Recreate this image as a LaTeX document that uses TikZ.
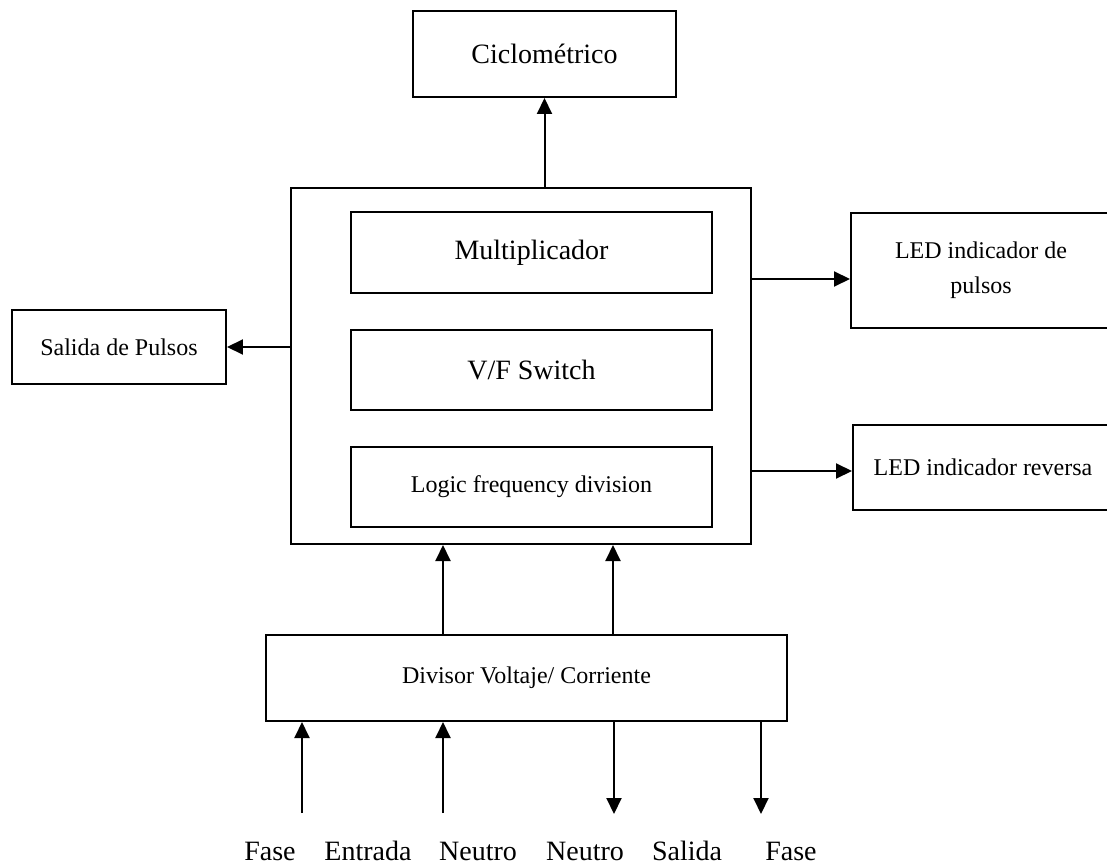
\documentclass[tikz,border=0pt]{standalone}
\usepackage{fontspec}
\setmainfont{Liberation Serif}
\usetikzlibrary{positioning, arrows.meta}
\tikzstyle{block}=[draw,fill=white,rectangle,inner sep=0pt]
\tikzstyle{every node}=[font=\fontsize{12}{17.5}\selectfont]
\newcommand{\bigtxt}{\fontsize{14}{16}\selectfont}

\begin{document}
\begin{tikzpicture}[>={Triangle[length=8pt,width=7.5pt]}, line width=1pt, node distance=58.75pt]
            \useasboundingbox (-260.5pt,183pt) rectangle (293pt,-250.5pt);
            \clip (-260.5pt,183pt) rectangle (293pt,-250.5pt);
            % medidor
            \node[block, minimum width=230pt, minimum height=178pt] (main) {};
            \node[block, minimum width=180.5pt, minimum height=40.5pt, font=\bigtxt] (mult) at (5.25pt,56.75pt) {Multiplicador};
            \node[block, below of=mult, minimum width=180.5pt, minimum height=40pt, font=\bigtxt] (vf) {V/F Switch};
            \node[block, below of=vf, node distance=58.5pt, minimum width=180.5pt, minimum height=40pt] (logic) {Logic frequency division};
            % salidas
            \node[block, above of=main, node distance=156pt, xshift=11.75pt, minimum width=131.5pt, minimum height=43pt, font=\bigtxt] (cyclo) {Ciclométrico};
            \node[block, left of=main, node distance=201pt, yshift=9.5pt, minimum width=107pt, minimum height=37pt] (salida) {Salida de Pulsos};
            \node[block, right of=main, node distance=230pt, yshift=47.75pt, minimum width=130pt, minimum height=57.5pt, align=center] (ledp) {LED indicador de\\pulsos};
            \node[block, right of=main, node distance=231pt, yshift=-50.75pt, minimum width=130pt, minimum height=42.5pt] (ledr) {LED indicador reversa};
            % entrada
            \node[block, below of=main, node distance=156pt, xshift=2.75pt, minimum width=260.5pt, minimum height=43pt] (div) {Divisor Voltaje/ Corriente};
            \draw[->] (main.north -| cyclo.south) -- (cyclo.south);
            \draw[->] (main.west |- salida.east) -- (salida.east);
            \draw[->] ([yshift=-4.25pt]main.east |- ledp.west) -- ([yshift=-4.25pt]ledp.west);
            \draw[->] ([yshift=-1.75pt]main.east |- ledr.west) -- ([yshift=-1.75pt]ledr.west);
            \draw[->] ([xshift=-41.75pt]div.north) -- ([xshift=-41.75pt]div.north |- main.south);
            \draw[->] ([xshift=43.25pt]div.north) -- ([xshift=43.25pt]div.north |- main.south);
            % lineas
            \coordinate[below=45.5pt of div.south, xshift=-112.25pt] (fin);
            \coordinate[below=45.5pt of div.south, xshift=-41.75pt] (nin);
            \coordinate[below=46pt of div.south, xshift=43.75pt] (nout);
            \coordinate[below=46pt of div.south, xshift=117.25pt] (fout);
            \draw[->] (fin) -- (fin |- div.south);
            \draw[->] (nin) -- (nin |- div.south);
            \draw[->] (nout |- div.south) -- (nout);
            \draw[->] (fout |- div.south) -- (fout);
            \node[font=\bigtxt] (l1) at ([xshift=-128.25pt,yshift=-64.5pt]div.south) {Fase};
            \node[font=\bigtxt] (l2) at ([xshift=-79.25pt,yshift=-64.5pt]div.south) {Entrada};
            \node[font=\bigtxt] (l3) at ([xshift=-24.25pt,yshift=-64.5pt]div.south) {Neutro};
            \node[font=\bigtxt] (l4) at ([xshift=29.25pt,yshift=-64.5pt]div.south) {Neutro};
            \node[font=\bigtxt] (l5) at ([xshift=80.25pt,yshift=-64.5pt]div.south) {Salida};
            \node[font=\bigtxt] (l6) at ([xshift=132.25pt,yshift=-64.5pt]div.south) {Fase};
        \end{tikzpicture}
\end{document}
